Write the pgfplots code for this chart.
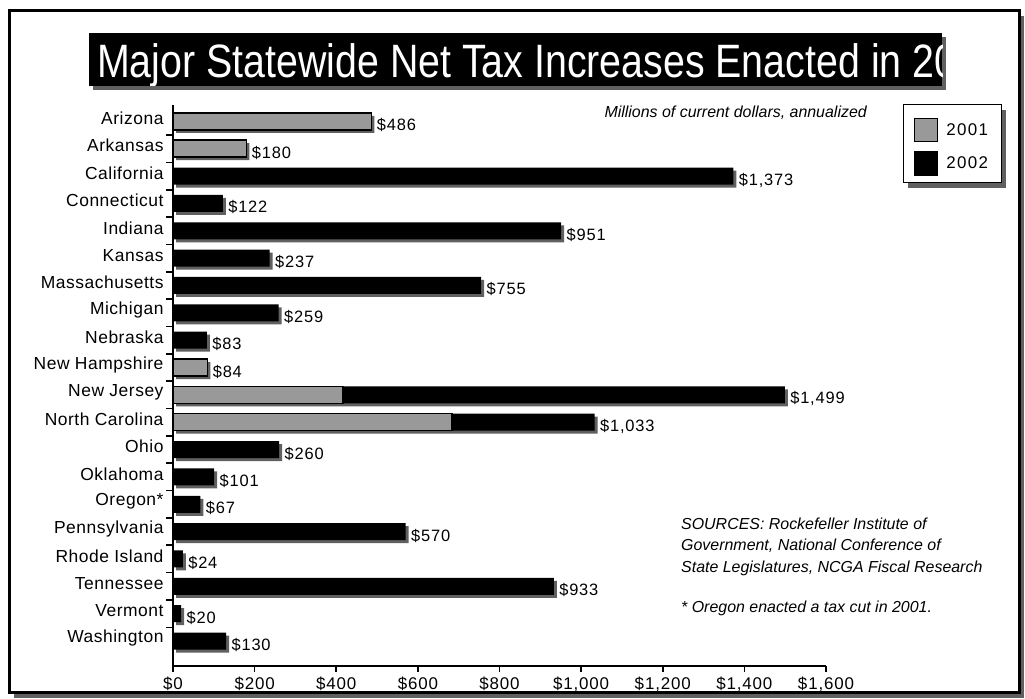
\documentclass[border=0pt]{standalone}
\usepackage{fontspec}
\setmainfont{Liberation Sans}
\newfontfamily\spacedA[LetterSpace=5]{Liberation Sans}
\newfontfamily\spacedL[LetterSpace=3]{Liberation Sans}
\newfontfamily\spacedB[LetterSpace=8]{Liberation Sans}
\usepackage{pgfplots}
\pgfplotsset{compat=1.18}
\definecolor{barGray}{RGB}{153,153,153}
\definecolor{shadowGray}{RGB}{96,96,96}

\begin{document}
\begin{tikzpicture}[x=1bp,y=1bp]
\path[use as bounding box] (0,0) rectangle (1025,699);
% outer frame with shadow
\fill[shadowGray] (14,1) rectangle (1024,683);
\draw[line width=3bp, fill=white] (9,6) rectangle (1019,688);
% title box
\fill[shadowGray] (93,609) rectangle (946,662);
\fill[black] (89,613) rectangle (942,666);
\begin{scope}
\clip (89,613) rectangle (942,666);
\node[anchor=base west, inner sep=0pt, text=white, font=\fontsize{47}{52}\selectfont, xscale=0.84] at (97,621) {Major Statewide Net Tax Increases Enacted in 2002};
\end{scope}
% legend box with shadow
\fill[shadowGray] (908,511) rectangle (1006,589);
\draw[line width=1bp, fill=white] (903,516) rectangle (1001,594);

\begin{axis}[
  at={(173bp,33bp)}, anchor=south west, scale only axis,
  width=653bp, height=561bp,
  xmin=0, xmax=1600, ymin=-0.914, ymax=19.6,
  axis x line*=bottom, axis y line*=left,
  axis line style={line width=1.6bp},
  xbar, bar width=17bp,
  xtick={0,200,...,1600},
  xticklabels={\$0,\$200,\$400,\$600,\$800,{\$1,000},{\$1,200},{\$1,400},{\$1,600}},
  ytick={0,...,19},
  yticklabels={Washington,Vermont,Tennessee,Rhode Island,Pennsylvania,Oregon*,Oklahoma,Ohio,North Carolina,New Jersey,New Hampshire,Nebraska,Michigan,Massachusetts,Kansas,Indiana,Connecticut,California,Arkansas,Arizona},
  minor ytick={0.5,1.5,...,18.5},
  tick align=outside,
  major tick length=6bp, minor tick length=7bp,
  major y tick style={draw=none},
  minor y tick style={line width=1.6bp, black},
  major x tick style={line width=1.6bp, black},
  x tick label style={font=\spacedA\fontsize{17}{20}\selectfont, yshift=-1bp},
  y tick label style={font=\spacedL\fontsize{17.5}{20}\selectfont, yshift=3bp},
  legend image code/.code={\draw[#1, line width=1.2bp] (0bp,-11.5bp) rectangle (23bp,11.5bp);},
  legend style={at={(1.1348,0.9768)}, anchor=north west, draw=none, fill=none, inner sep=0pt,
     font=\spacedB\fontsize{17}{20}\selectfont, row sep=9bp,
     /tikz/every odd column/.append style={column sep=6bp}},
  legend cell align=left,
  clip=false,
]
% bar shadows
\addplot[forget plot, bar shift=0pt, fill=shadowGray, draw=none, transform canvas={xshift=3bp,yshift=-3bp}] coordinates {
(486,19) (180,18) (1373,17) (122,16) (951,15) (237,14) (755,13) (259,12) (83,11) (84,10)
(1499,9) (1033,8) (260,7) (101,6) (67,5) (570,4) (24,3) (933,2) (20,1) (130,0)};
% totals (2002 portion shows in black)
\addplot[forget plot, bar shift=0pt, fill=black, draw=none, point meta=x,
  nodes near coords={\$\pgfmathprintnumber[assume math mode=true, 1000 sep={,}]{\pgfplotspointmeta}},
  nodes near coords style={font=\spacedA\fontsize{16.5}{19}\selectfont, anchor=west, xshift=2bp, yshift=-4bp, text=black}] coordinates {
(486,19) (180,18) (1373,17) (122,16) (951,15) (237,14) (755,13) (259,12) (83,11) (84,10)
(1499,9) (1033,8) (260,7) (101,6) (67,5) (570,4) (24,3) (933,2) (20,1) (130,0)};
% 2001 portion
\addplot[forget plot, bar shift=0pt, fill=barGray, draw=black, line width=1.5bp] coordinates {
(486,19) (180,18) (84,10) (417,9) (684,8)};
\addlegendimage{fill=barGray, draw=black}
\addlegendentry{2001}
\addlegendimage{fill=black, draw=black}
\addlegendentry{2002}
\end{axis}

\node[anchor=east, inner sep=0pt, font=\itshape\fontsize{16}{19}\selectfont] at (867,586) {Millions of current dollars, annualized};
\node[anchor=west, inner sep=0pt, font=\itshape\fontsize{16}{19}\selectfont] at (681,175) {SOURCES: Rockefeller Institute of};
\node[anchor=west, inner sep=0pt, font=\itshape\fontsize{16}{19}\selectfont] at (681,153) {Government, National Conference of};
\node[anchor=west, inner sep=0pt, font=\itshape\fontsize{16}{19}\selectfont] at (681,131) {State Legislatures, NCGA Fiscal Research};
\node[anchor=west, inner sep=0pt, font=\itshape\fontsize{16}{19}\selectfont] at (681,91) {* Oregon enacted a tax cut in 2001.};
\end{tikzpicture}
\end{document}
